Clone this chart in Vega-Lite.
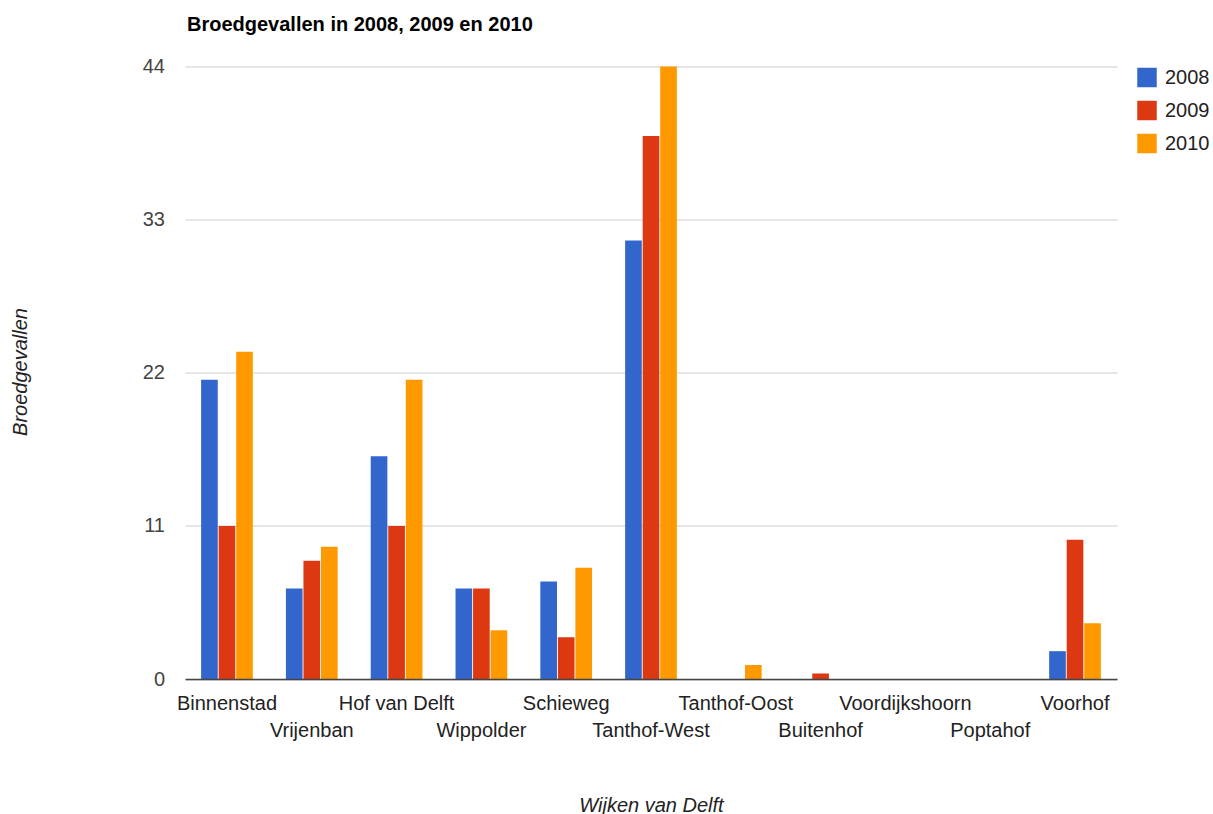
{
  "$schema": "https://vega.github.io/schema/vega-lite/v6.json",
  "autosize": {"type": "none"},
  "padding": {"left": 185, "top": 66.5, "right": 96, "bottom": 135},
  "width": 932,
  "height": 612.5,
  "title": {
    "text": "Broedgevallen in 2008, 2009 en 2010",
    "anchor": "start",
    "frame": "group",
    "fontSize": 20,
    "fontWeight": "bold",
    "color": "#000000",
    "baseline": "alphabetic",
    "offset": 6,
    "dx": 2
  },
  "data": {
    "values": [
      {"wijk": "Binnenstad", "jaar": "2008", "aantal": 21.5},
      {"wijk": "Binnenstad", "jaar": "2009", "aantal": 11},
      {"wijk": "Binnenstad", "jaar": "2010", "aantal": 23.5},
      {"wijk": "Vrijenban", "jaar": "2008", "aantal": 6.5},
      {"wijk": "Vrijenban", "jaar": "2009", "aantal": 8.5},
      {"wijk": "Vrijenban", "jaar": "2010", "aantal": 9.5},
      {"wijk": "Hof van Delft", "jaar": "2008", "aantal": 16},
      {"wijk": "Hof van Delft", "jaar": "2009", "aantal": 11},
      {"wijk": "Hof van Delft", "jaar": "2010", "aantal": 21.5},
      {"wijk": "Wippolder", "jaar": "2008", "aantal": 6.5},
      {"wijk": "Wippolder", "jaar": "2009", "aantal": 6.5},
      {"wijk": "Wippolder", "jaar": "2010", "aantal": 3.5},
      {"wijk": "Schieweg", "jaar": "2008", "aantal": 7},
      {"wijk": "Schieweg", "jaar": "2009", "aantal": 3},
      {"wijk": "Schieweg", "jaar": "2010", "aantal": 8},
      {"wijk": "Tanthof-West", "jaar": "2008", "aantal": 31.5},
      {"wijk": "Tanthof-West", "jaar": "2009", "aantal": 39},
      {"wijk": "Tanthof-West", "jaar": "2010", "aantal": 44},
      {"wijk": "Tanthof-Oost", "jaar": "2008", "aantal": 0},
      {"wijk": "Tanthof-Oost", "jaar": "2009", "aantal": 0},
      {"wijk": "Tanthof-Oost", "jaar": "2010", "aantal": 1},
      {"wijk": "Buitenhof", "jaar": "2008", "aantal": 0},
      {"wijk": "Buitenhof", "jaar": "2009", "aantal": 0.4},
      {"wijk": "Buitenhof", "jaar": "2010", "aantal": 0},
      {"wijk": "Voordijkshoorn", "jaar": "2008", "aantal": 0},
      {"wijk": "Voordijkshoorn", "jaar": "2009", "aantal": 0},
      {"wijk": "Voordijkshoorn", "jaar": "2010", "aantal": 0},
      {"wijk": "Poptahof", "jaar": "2008", "aantal": 0},
      {"wijk": "Poptahof", "jaar": "2009", "aantal": 0},
      {"wijk": "Poptahof", "jaar": "2010", "aantal": 0},
      {"wijk": "Voorhof", "jaar": "2008", "aantal": 2},
      {"wijk": "Voorhof", "jaar": "2009", "aantal": 10},
      {"wijk": "Voorhof", "jaar": "2010", "aantal": 4}
    ]
  },
  "mark": {"type": "bar"},
  "encoding": {
    "x": {
      "field": "wijk",
      "type": "nominal",
      "sort": null,
      "scale": {"paddingInner": 0.39, "paddingOuter": 0.19},
      "axis": {
        "title": "Wijken van Delft",
        "titleFontStyle": "italic",
        "titleFontWeight": "normal",
        "titleFontSize": 20,
        "titleColor": "#222222",
        "titleX": 466,
        "titleY": 126,
        "titleAlign": "center",
        "titleBaseline": "middle",
        "labelAngle": 0,
        "labelFontSize": 20,
        "labelColor": "#222222",
        "labelBaseline": "alphabetic",
        "labelOverlap": false,
        "labelPadding": {
          "condition": {
            "test": "indexof(['Vrijenban','Wippolder','Tanthof-West','Buitenhof','Poptahof'], datum.value) >= 0",
            "value": 57
          },
          "value": 30
        },
        "ticks": false,
        "domainColor": "#444444",
        "domainWidth": 1.4,
        "grid": false,
        "zindex": 1
      }
    },
    "xOffset": {
      "field": "jaar",
      "type": "nominal",
      "scale": {"paddingInner": 0.05, "paddingOuter": 0}
    },
    "y": {
      "field": "aantal",
      "type": "quantitative",
      "scale": {"domain": [0, 44], "nice": false},
      "axis": {
        "title": "Broedgevallen",
        "titleFontStyle": "italic",
        "titleFontWeight": "normal",
        "titleFontSize": 20,
        "titleColor": "#222222",
        "titleX": -165,
        "titleY": 305,
        "titleAngle": -90,
        "titleAlign": "center",
        "titleBaseline": "middle",
        "values": [0, 11, 22, 33, 44],
        "labelFontSize": 20,
        "labelColor": "#444444",
        "labelPadding": 20.5,
        "ticks": false,
        "domain": false,
        "grid": true,
        "gridColor": "#cccccc",
        "gridWidth": 1
      }
    },
    "color": {
      "field": "jaar",
      "type": "nominal",
      "scale": {"domain": ["2008", "2009", "2010"], "range": ["#3366cc", "#dc3912", "#ff9900"]},
      "legend": {
        "title": null,
        "orient": "none",
        "legendX": 952,
        "legendY": 1,
        "padding": 0,
        "symbolType": "square",
        "symbolSize": 380,
        "symbolStrokeWidth": 0,
        "symbolOpacity": 1,
        "labelFontSize": 20,
        "labelColor": "#222222",
        "labelOffset": 8,
        "rowPadding": 13
      }
    }
  },
  "config": {
    "font": "Arial, Liberation Sans, sans-serif",
    "view": {"stroke": null},
    "background": "#ffffff"
  }
}
